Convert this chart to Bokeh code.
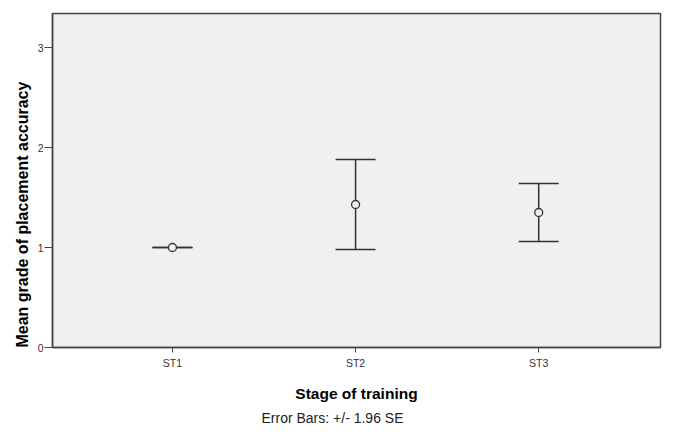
from bokeh.plotting import figure
from bokeh.models import (ColumnDataSource, Range1d, FixedTicker, Whisker, TeeHead, Title)
from bokeh.embed import file_html
from bokeh.resources import INLINE

# Data
categories = ["ST1", "ST2", "ST3"]
positions = [1, 2, 3]
means = [1.00, 1.43, 1.35]
lower = [1.00, 0.98, 1.06]
upper = [1.00, 1.88, 1.64]
y_ticks = [0, 1, 2, 3]

src = ColumnDataSource(dict(x=positions, mean=means, lower=lower, upper=upper))

p = figure(width=666, height=430, output_backend="svg", toolbar_location=None,
           x_range=Range1d(0.345, 3.665), y_range=Range1d(0, 3.34),
           min_border_left=52, min_border_right=6, min_border_top=13, min_border_bottom=83)

p.background_fill_color = "#f0f0f0"
p.border_fill_color = "white"
p.outline_line_color = "#444444"
p.outline_line_width = 1.5
p.xgrid.visible = False
p.ygrid.visible = False

FONT = "Liberation Sans"

for ax in (p.xaxis[0], p.yaxis[0]):
    ax.axis_line_color = "#444444"
    ax.axis_line_width = 1.5
    ax.major_tick_line_color = "#444444"
    ax.minor_tick_line_color = None
    ax.major_tick_in = 0
    ax.major_label_text_font = FONT
    ax.major_label_text_font_size = "10.5px"
    ax.major_label_text_color = "#333333"

p.xaxis.ticker = FixedTicker(ticks=positions)
p.xaxis.major_label_overrides = {pos: c for pos, c in zip(positions, categories)}
p.xaxis.major_tick_out = 5
p.xaxis.major_label_standoff = 4
p.xaxis.axis_label = "Stage of training"
p.xaxis.axis_label_text_font = FONT
p.xaxis.axis_label_text_font_size = "15.5px"
p.xaxis.axis_label_text_font_style = "bold"
p.xaxis.axis_label_text_color = "#000000"
p.xaxis.axis_label_standoff = 13

p.yaxis.ticker = FixedTicker(ticks=y_ticks)
p.yaxis.major_tick_out = 8
p.yaxis.major_label_standoff = 1

ylab = Title(text="Mean grade of placement accuracy", align="left", offset=0,
             text_font=FONT, text_font_size="16px", text_font_style="bold",
             text_color="#000000", standoff=8)
p.add_layout(ylab, "left")

note = Title(text="Error Bars: +/- 1.96 SE", align="left", offset=209,
             text_font=FONT, text_font_size="14px", text_font_style="normal",
             text_color="#222222", standoff=6)
p.add_layout(note, "below")

w = Whisker(source=src, base="x", upper="upper", lower="lower",
            line_color="#333333", line_width=1.5,
            upper_head=TeeHead(size=40, line_color="#333333", line_width=1.5),
            lower_head=TeeHead(size=40, line_color="#333333", line_width=1.5))
p.add_layout(w)

p.scatter("x", "mean", source=src, size=8, fill_color="#f0f0f0",
          line_color="#333333", line_width=1.3)

open("out.html", "w").write(file_html(p, INLINE))
